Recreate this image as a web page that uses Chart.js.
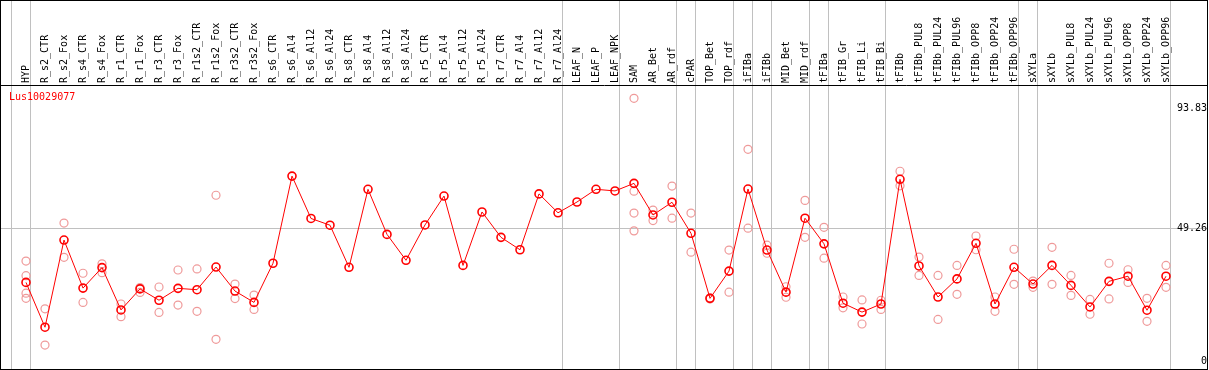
<!DOCTYPE html>
<html>
<head>
<meta charset="utf-8">
<title>Lus10029077 expression profile</title>
<script src="https://cdn.jsdelivr.net/npm/chart.js@4.4.1/dist/chart.umd.min.js"></script>
<style>
  body { margin: 0; background: #fff; }
  #frame { position: relative; width: 1206px; height: 368px; border: 1px solid #000; }
  #frame canvas { display: block; }
  #gene { position: absolute; left: 8px; top: 90px; font: 10px/12px "DejaVu Sans Mono", monospace; color: #f00; }
</style>
</head>
<body>
<div id="frame">
  <canvas id="profileChart" width="1206" height="368"></canvas>
  <div id="gene">Lus10029077</div>
</div>
<script>
// Sample names, in plotting order
const categories = [
  'HYP', 'R_s2_CTR', 'R_s2_Fox', 'R_s4_CTR', 'R_s4_Fox', 'R_r1_CTR', 'R_r1_Fox',
  'R_r3_CTR', 'R_r3_Fox', 'R_r1s2_CTR', 'R_r1s2_Fox', 'R_r3s2_CTR', 'R_r3s2_Fox',
  'R_s6_CTR', 'R_s6_Al4', 'R_s6_Al12', 'R_s6_Al24', 'R_s8_CTR', 'R_s8_Al4',
  'R_s8_Al12', 'R_s8_Al24', 'R_r5_CTR', 'R_r5_Al4', 'R_r5_Al12', 'R_r5_Al24',
  'R_r7_CTR', 'R_r7_Al4', 'R_r7_Al12', 'R_r7_Al24', 'LEAF_N', 'LEAF_P', 'LEAF_NPK',
  'SAM', 'AR_Bet', 'AR_rdf', 'cPAR', 'TOP_Bet', 'TOP_rdf', 'iFIBa', 'iFIBb',
  'MID_Bet', 'MID_rdf', 'tFIBa', 'tFIB_Gr', 'tFIB_Li', 'tFIB_Bi', 'tFIBb',
  'tFIBb_PUL8', 'tFIBb_PUL24', 'tFIBb_PUL96', 'tFIBb_OPP8', 'tFIBb_OPP24', 'tFIBb_OPP96',
  'sXYLa', 'sXYLb', 'sXYLb_PUL8', 'sXYLb_PUL24', 'sXYLb_PUL96', 'sXYLb_OPP8',
  'sXYLb_OPP24', 'sXYLb_OPP96'
];

// Mean expression per sample
const means = [
  29.3, 12.7, 45.0, 27.2, 34.8, 19.1, 26.9, 22.7, 27.1, 26.6, 35.0, 26.1, 21.9,
  36.4, 68.7, 53.0, 50.5, 34.9, 63.8, 47.1, 37.5, 50.6, 61.3, 35.6, 55.4, 46.0, 41.4, 62.1, 55.1, 59.1,
  63.8, 63.2, 66.0, 54.3, 59.0, 47.5, 23.4, 33.5, 63.9, 41.3, 25.7, 53.1, 43.6, 21.6, 18.3, 21.3,
  67.5, 35.4, 23.9, 30.6, 43.8, 21.3, 34.9, 28.7, 35.6, 28.2, 20.2, 29.7, 31.6, 19.0, 31.6
];

// Individual replicate values per sample (empty = no replicates shown)
const replicates = [
  [37.2, 31.8, 25.3, 23.4], [19.5, 6.1], [51.3, 38.6], [32.7, 21.9], [36.2, 32.9],
  [21.3, 16.6], [27.4, 25.6], [27.6, 18.2], [33.9, 20.9], [34.3, 18.6], [61.6, 8.2],
  [28.7, 23.3], [24.6, 19.3],
  [], [], [], [], [], [], [], [], [], [], [], [], [], [], [], [], [], [], [],
  [97.5, 63.1, 55.0, 48.4], [56.1, 52.2], [65.0, 53.1], [55.0, 40.5], [23.6, 23.2],
  [41.3, 25.7], [78.6, 49.4], [43.1, 40.1], [27.7, 23.8], [59.7, 46.0], [49.7, 38.3],
  [23.9, 19.9], [22.8, 13.9], [22.7, 19.3], [70.5, 65.1], [38.7, 31.9], [31.9, 15.6],
  [35.6, 24.9], [46.5, 41.4], [23.9, 18.6], [41.6, 28.6], [29.8, 27.5], [42.3, 28.6],
  [31.9, 24.5], [23.0, 17.5], [36.4, 23.2], [34.0, 29.3], [23.4, 14.9], [35.6, 27.5]
];

// Last sample index of each tissue group (separator drawn after it)
const groupEnds = [-1, 0, 28, 31, 34, 35, 37, 38, 39, 41, 42, 45, 52, 53, 60];

// Right-hand axis labels
const yTicks = [0, 49.26, 93.83];

const HEADER_H = 84;
const SEP_OFFSET = 0.24;
const GRID = '#c0c0c0';
const FONT = { family: 'DejaVu Sans Mono', size: 10 };

const sepValues = groupEnds.map(i => i + SEP_OFFSET);
const xTickValues = categories.map((_, i) => i).concat(sepValues).sort((a, b) => a - b);

const meanPoints = means.map((v, i) => ({ x: i, y: v }));
const repPoints = replicates.flatMap((vals, i) => vals.map(v => ({ x: i, y: v })));

new Chart(document.getElementById('profileChart'), {
  type: 'line',
  data: {
    datasets: [
      {
        data: meanPoints,
        borderColor: '#ff0000',
        borderWidth: 1,
        tension: 0,
        pointRadius: 4,
        pointBorderWidth: 1.6,
        pointBorderColor: '#ff0000',
        pointBackgroundColor: 'transparent',
        order: 0
      },
      {
        data: repPoints,
        showLine: false,
        pointRadius: 4,
        pointBorderWidth: 1.2,
        pointBorderColor: '#ef9a9a',
        pointBackgroundColor: 'transparent',
        order: 1
      }
    ]
  },
  options: {
    responsive: false,
    animation: false,
    events: [],
    layout: { padding: 0, autoPadding: false },
    plugins: { legend: { display: false }, tooltip: { enabled: false } },
    scales: {
      x: {
        type: 'linear',
        position: 'top',
        min: -25 / 19,
        max: 1181 / 19,
        afterBuildTicks: axis => { axis.ticks = xTickValues.map(v => ({ value: v })); },
        afterFit: axis => { axis.height = HEADER_H; axis.paddingLeft = 0; axis.paddingRight = 0; },
        ticks: {
          autoSkip: false,
          minRotation: 90,
          maxRotation: 90,
          padding: 2 - HEADER_H,
          labelOffset: 12,
          color: '#000',
          font: FONT,
          callback: v => Number.isInteger(v) ? categories[v] : ''
        },
        grid: {
          color: ctx => (ctx.tick && !Number.isInteger(ctx.tick.value)) ? GRID : 'transparent',
          tickLength: HEADER_H,
          lineWidth: 1
        },
        border: { color: '#000', width: 1 }
      },
      y: {
        position: 'right',
        min: -2.78,
        max: 102.45,
        afterBuildTicks: axis => { axis.ticks = yTicks.map(v => ({ value: v })); },
        afterFit: axis => { axis.width = 0; axis.paddingTop = 0; axis.paddingBottom = 0; },
        ticks: {
          mirror: true,
          padding: 0,
          color: '#000',
          font: FONT,
          callback: v => String(v)
        },
        grid: {
          color: ctx => (ctx.tick && ctx.tick.value === 49.26) ? GRID : 'transparent',
          drawTicks: false,
          lineWidth: 1
        },
        border: { display: false }
      }
    }
  }
});
</script>
</body>
</html>
